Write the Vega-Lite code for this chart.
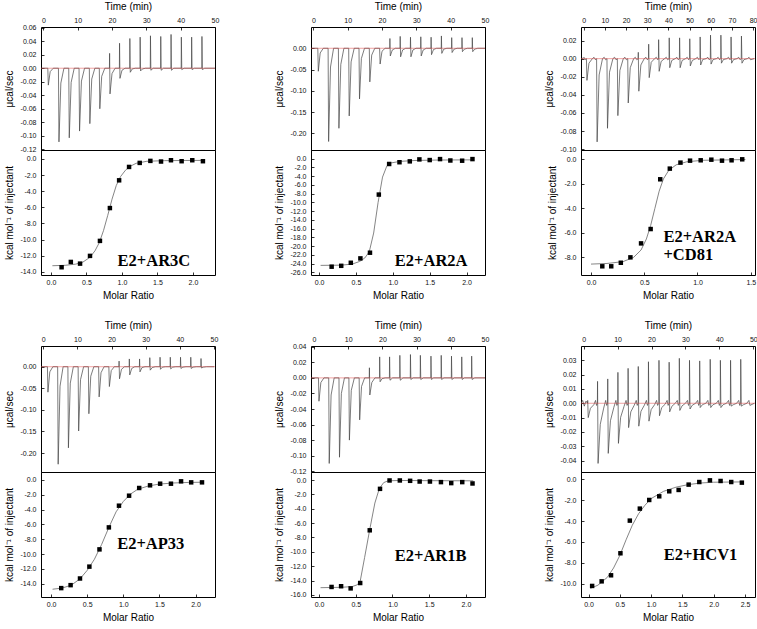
{
"$schema": "https://vega.github.io/schema/vega-lite/v6.json",
"background": "white",
"padding": {"left": 3, "top": 0, "right": 0, "bottom": 0},
"columns": 3,
"bounds": "flush",
"align": "each",
"spacing": {"row": 0, "column": 96},
"datasets": {
"raw1": [{"t":-0.5,"v":0},{"t":1.3,"v":0},{"t":1.45,"v":-0.025},{"t":2.0,"v":-0.005},{"t":2.9,"v":0},
{"t":4.4,"v":0},{"t":4.55,"v":-0.109},{"t":5.1,"v":-0.022},{"t":6.0,"v":0},
{"t":7.4,"v":0},{"t":7.55,"v":-0.103},{"t":8.1,"v":-0.021},{"t":9.0,"v":0},
{"t":10.4,"v":0},{"t":10.55,"v":-0.093},{"t":11.1,"v":-0.019},{"t":12.0,"v":0},
{"t":13.4,"v":0},{"t":13.55,"v":-0.082},{"t":14.1,"v":-0.016},{"t":15.0,"v":0},
{"t":16.3,"v":0},{"t":16.45,"v":-0.060},{"t":17.0,"v":-0.012},{"t":17.9,"v":0},
{"t":19.25,"v":0},{"t":19.3,"v":0.022},{"t":19.42,"v":-0.038},{"t":20.0,"v":-0.008},{"t":20.9,"v":0},
{"t":22.15,"v":0},{"t":22.2,"v":0.037},{"t":22.32,"v":-0.015},{"t":22.9,"v":-0.003},{"t":23.8,"v":0},
{"t":25.15,"v":0},{"t":25.2,"v":0.044},{"t":25.32,"v":-0.006},{"t":25.9,"v":-0.001},{"t":26.8,"v":0},
{"t":28.15,"v":0},{"t":28.2,"v":0.046},{"t":28.32,"v":-0.004},{"t":28.9,"v":-0.001},{"t":29.8,"v":0},
{"t":31.15,"v":0},{"t":31.2,"v":0.048},{"t":31.32,"v":-0.003},{"t":32.0,"v":0},
{"t":34.15,"v":0},{"t":34.2,"v":0.047},{"t":34.32,"v":-0.003},{"t":35.0,"v":0},
{"t":37.15,"v":0},{"t":37.2,"v":0.050},{"t":37.32,"v":-0.003},{"t":38.0,"v":0},
{"t":40.15,"v":0},{"t":40.2,"v":0.046},{"t":40.32,"v":-0.002},{"t":41.0,"v":0},
{"t":43.15,"v":0},{"t":43.2,"v":0.046},{"t":43.32,"v":-0.002},{"t":44.0,"v":0},
{"t":46.15,"v":0},{"t":46.2,"v":0.047},{"t":46.32,"v":-0.002},{"t":47.0,"v":0},{"t":50,"v":0}],
"raw2": [{"t":-0.5,"v":0},{"t":1.3,"v":0},{"t":1.45,"v":-0.054},{"t":2.0,"v":-0.011},{"t":2.9,"v":0},
{"t":4.3,"v":0},{"t":4.45,"v":-0.219},{"t":5.0,"v":-0.044},{"t":5.9,"v":0},
{"t":7.3,"v":0},{"t":7.45,"v":-0.188},{"t":8.0,"v":-0.038},{"t":8.9,"v":0},
{"t":10.3,"v":0},{"t":10.45,"v":-0.159},{"t":11.0,"v":-0.032},{"t":11.9,"v":0},
{"t":13.3,"v":0},{"t":13.45,"v":-0.119},{"t":14.0,"v":-0.024},{"t":14.9,"v":0},
{"t":16.3,"v":0},{"t":16.45,"v":-0.079},{"t":17.0,"v":-0.016},{"t":17.9,"v":0},
{"t":19.3,"v":0},{"t":19.45,"v":-0.037},{"t":20.0,"v":-0.007},{"t":20.9,"v":0},
{"t":22.25,"v":0},{"t":22.3,"v":0.023},{"t":22.42,"v":-0.018},{"t":23.0,"v":-0.004},{"t":23.9,"v":0},
{"t":25.25,"v":0},{"t":25.3,"v":0.028},{"t":25.42,"v":-0.020},{"t":26.0,"v":-0.004},{"t":26.9,"v":0},
{"t":28.25,"v":0},{"t":28.3,"v":0.026},{"t":28.42,"v":-0.020},{"t":29.0,"v":-0.004},{"t":29.9,"v":0},
{"t":31.25,"v":0},{"t":31.3,"v":0.027},{"t":31.42,"v":-0.018},{"t":32.0,"v":-0.004},{"t":32.9,"v":0},
{"t":34.25,"v":0},{"t":34.3,"v":0.026},{"t":34.42,"v":-0.015},{"t":35.0,"v":-0.003},{"t":35.9,"v":0},
{"t":37.25,"v":0},{"t":37.3,"v":0.029},{"t":37.42,"v":-0.012},{"t":38.0,"v":-0.002},{"t":38.9,"v":0},
{"t":40.25,"v":0},{"t":40.3,"v":0.025},{"t":40.42,"v":-0.010},{"t":41.0,"v":-0.002},{"t":41.9,"v":0},
{"t":43.25,"v":0},{"t":43.3,"v":0.025},{"t":43.42,"v":-0.008},{"t":44.0,"v":-0.002},{"t":44.9,"v":0},
{"t":46.25,"v":0},{"t":46.3,"v":0.025},{"t":46.42,"v":-0.008},{"t":47.0,"v":-0.002},{"t":47.9,"v":0},{"t":50,"v":0}],
"raw3": [{"t":-1,"v":0},{"t":0.3,"v":0.0012},{"t":0.8,"v":-0.001},
{"t":1.3,"v":0},{"t":1.55,"v":-0.024},{"t":2.5,"v":-0.005},{"t":4.1,"v":0},{"t":4.9,"v":0.0015},{"t":5.6,"v":-0.0012},
{"t":6.1,"v":0},{"t":6.35,"v":-0.092},{"t":7.3,"v":-0.018},{"t":8.9,"v":0},{"t":9.7,"v":0.0015},{"t":10.4,"v":-0.0012},
{"t":11.0,"v":0},{"t":11.25,"v":-0.077},{"t":12.2,"v":-0.015},{"t":13.8,"v":0},{"t":14.6,"v":0.0015},{"t":15.3,"v":-0.0012},
{"t":15.9,"v":0},{"t":16.15,"v":-0.063},{"t":17.1,"v":-0.013},{"t":18.7,"v":0},{"t":19.5,"v":0.0015},{"t":20.2,"v":-0.0012},
{"t":20.8,"v":0},{"t":21.05,"v":-0.049},{"t":22.0,"v":-0.010},{"t":23.6,"v":0},{"t":24.4,"v":0.0015},{"t":25.1,"v":-0.0012},
{"t":25.7,"v":0},{"t":25.8,"v":0.007},{"t":26.05,"v":-0.036},{"t":27.0,"v":-0.007},{"t":28.6,"v":0},{"t":29.4,"v":0.0015},{"t":30.1,"v":-0.0012},
{"t":30.6,"v":0},{"t":30.7,"v":0.016},{"t":30.95,"v":-0.021},{"t":31.9,"v":-0.004},{"t":33.5,"v":0},{"t":34.3,"v":0.0015},{"t":35.0,"v":-0.0012},
{"t":35.3,"v":0},{"t":35.4,"v":0.021},{"t":35.65,"v":-0.014},{"t":36.6,"v":-0.003},{"t":38.2,"v":0},{"t":39.0,"v":0.0015},{"t":39.7,"v":-0.0012},
{"t":40.3,"v":0},{"t":40.4,"v":0.023},{"t":40.65,"v":-0.010},{"t":41.6,"v":-0.002},{"t":43.2,"v":0},{"t":44.0,"v":0.0015},{"t":44.7,"v":-0.0012},
{"t":45.2,"v":0},{"t":45.3,"v":0.023},{"t":45.55,"v":-0.010},{"t":46.5,"v":-0.002},{"t":48.1,"v":0},{"t":48.9,"v":0.0015},{"t":49.6,"v":-0.0012},
{"t":50.0,"v":0},{"t":50.1,"v":0.022},{"t":50.35,"v":-0.008},{"t":51.3,"v":-0.002},{"t":52.9,"v":0},{"t":53.7,"v":0.0015},{"t":54.4,"v":-0.0012},
{"t":54.9,"v":0},{"t":55.0,"v":0.024},{"t":55.25,"v":-0.007},{"t":56.2,"v":-0.001},{"t":57.8,"v":0},{"t":58.6,"v":0.0015},{"t":59.3,"v":-0.0012},
{"t":59.8,"v":0},{"t":59.9,"v":0.026},{"t":60.15,"v":-0.006},{"t":61.1,"v":-0.001},{"t":62.7,"v":0},{"t":63.5,"v":0.0015},{"t":64.2,"v":-0.0012},
{"t":64.7,"v":0},{"t":64.8,"v":0.026},{"t":65.05,"v":-0.005},{"t":66.0,"v":-0.001},{"t":67.6,"v":0},{"t":68.4,"v":0.0015},{"t":69.1,"v":-0.0012},
{"t":69.5,"v":0},{"t":69.6,"v":0.024},{"t":69.85,"v":-0.005},{"t":70.8,"v":-0.001},{"t":72.4,"v":0},{"t":73.2,"v":0.0015},{"t":73.9,"v":-0.0012},
{"t":74.4,"v":0},{"t":74.5,"v":0.025},{"t":74.75,"v":-0.005},{"t":75.7,"v":-0.001},{"t":77.3,"v":0},{"t":78.1,"v":0.0015},{"t":78.8,"v":-0.0012},{"t":80.5,"v":0}],
"raw4": [{"t":-0.5,"v":0},{"t":1.2,"v":0},{"t":1.35,"v":-0.059},{"t":1.9,"v":-0.012},{"t":2.8,"v":0},
{"t":4.2,"v":0},{"t":4.35,"v":-0.226},{"t":4.9,"v":-0.045},{"t":5.8,"v":0},
{"t":7.2,"v":0},{"t":7.35,"v":-0.188},{"t":7.9,"v":-0.038},{"t":8.8,"v":0},
{"t":10.2,"v":0},{"t":10.35,"v":-0.149},{"t":10.9,"v":-0.030},{"t":11.8,"v":0},
{"t":13.2,"v":0},{"t":13.35,"v":-0.109},{"t":13.9,"v":-0.022},{"t":14.8,"v":0},
{"t":16.2,"v":0},{"t":16.35,"v":-0.070},{"t":16.9,"v":-0.014},{"t":17.8,"v":0},
{"t":19.2,"v":0},{"t":19.35,"v":-0.046},{"t":19.9,"v":-0.009},{"t":20.8,"v":0},
{"t":22.15,"v":0},{"t":22.2,"v":0.013},{"t":22.32,"v":-0.028},{"t":22.9,"v":-0.006},{"t":23.8,"v":0},
{"t":25.15,"v":0},{"t":25.2,"v":0.018},{"t":25.32,"v":-0.019},{"t":25.9,"v":-0.004},{"t":26.8,"v":0},
{"t":28.15,"v":0},{"t":28.2,"v":0.018},{"t":28.32,"v":-0.012},{"t":28.9,"v":-0.002},{"t":29.8,"v":0},
{"t":31.15,"v":0},{"t":31.2,"v":0.021},{"t":31.32,"v":-0.008},{"t":31.9,"v":-0.002},{"t":32.8,"v":0},
{"t":34.15,"v":0},{"t":34.2,"v":0.022},{"t":34.32,"v":-0.006},{"t":34.9,"v":-0.001},{"t":35.8,"v":0},
{"t":37.15,"v":0},{"t":37.2,"v":0.022},{"t":37.32,"v":-0.005},{"t":37.9,"v":-0.001},{"t":38.8,"v":0},
{"t":40.15,"v":0},{"t":40.2,"v":0.022},{"t":40.32,"v":-0.004},{"t":40.9,"v":-0.001},{"t":41.8,"v":0},
{"t":43.15,"v":0},{"t":43.2,"v":0.022},{"t":43.32,"v":-0.004},{"t":43.9,"v":-0.001},{"t":44.8,"v":0},
{"t":46.15,"v":0},{"t":46.2,"v":0.019},{"t":46.32,"v":-0.003},{"t":46.9,"v":-0.001},{"t":47.8,"v":0},{"t":50,"v":0}],
"raw5": [{"t":-0.7,"v":0},{"t":1.3,"v":0},{"t":1.45,"v":-0.030},{"t":2.0,"v":-0.006},{"t":2.9,"v":0},
{"t":4.3,"v":0},{"t":4.45,"v":-0.110},{"t":5.0,"v":-0.022},{"t":5.9,"v":0},
{"t":7.3,"v":0},{"t":7.45,"v":-0.102},{"t":8.0,"v":-0.020},{"t":8.9,"v":0},
{"t":10.2,"v":0},{"t":10.35,"v":-0.080},{"t":10.9,"v":-0.016},{"t":11.8,"v":0},
{"t":13.2,"v":0},{"t":13.35,"v":-0.054},{"t":13.9,"v":-0.011},{"t":14.8,"v":0},
{"t":16.15,"v":0},{"t":16.2,"v":0.013},{"t":16.32,"v":-0.022},{"t":16.9,"v":-0.006},{"t":17.8,"v":0},
{"t":19.15,"v":0},{"t":19.2,"v":0.027},{"t":19.32,"v":-0.005},{"t":19.9,"v":-0.001},{"t":20.8,"v":0},
{"t":22.05,"v":0},{"t":22.1,"v":0.027},{"t":22.22,"v":-0.003},{"t":23.0,"v":0},
{"t":25.05,"v":0},{"t":25.1,"v":0.029},{"t":25.22,"v":-0.003},{"t":26.0,"v":0},
{"t":28.15,"v":0},{"t":28.2,"v":0.030},{"t":28.32,"v":-0.002},{"t":29.0,"v":0},
{"t":31.05,"v":0},{"t":31.1,"v":0.029},{"t":31.22,"v":-0.002},{"t":32.0,"v":0},
{"t":34.15,"v":0},{"t":34.2,"v":0.028},{"t":34.32,"v":-0.002},{"t":35.0,"v":0},
{"t":37.15,"v":0},{"t":37.2,"v":0.029},{"t":37.32,"v":-0.002},{"t":38.0,"v":0},
{"t":40.15,"v":0},{"t":40.2,"v":0.028},{"t":40.32,"v":-0.002},{"t":41.0,"v":0},
{"t":43.15,"v":0},{"t":43.2,"v":0.027},{"t":43.32,"v":-0.002},{"t":44.0,"v":0},
{"t":46.05,"v":0},{"t":46.1,"v":0.028},{"t":46.22,"v":-0.002},{"t":47.0,"v":0},{"t":50,"v":0}],
"raw6": [{"t":-0.8,"v":0},{"t":-0.3,"v":0.002},{"t":0.2,"v":-0.002},{"t":0.7,"v":0.0015},
{"t":1.15,"v":0},{"t":1.2,"v":0.002},{"t":1.35,"v":-0.010},{"t":2.0,"v":-0.0035},{"t":3.0,"v":-0.001},{"t":3.5,"v":0.002},{"t":3.8,"v":-0.0015},
{"t":4.05,"v":0},{"t":4.1,"v":0.0153},{"t":4.25,"v":-0.042},{"t":4.9,"v":-0.0147},{"t":5.9,"v":-0.0034},{"t":6.5,"v":0.002},{"t":6.8,"v":-0.0015},
{"t":7.05,"v":0},{"t":7.1,"v":0.017},{"t":7.25,"v":-0.035},{"t":7.9,"v":-0.0122},{"t":8.9,"v":-0.0028},{"t":9.5,"v":0.002},{"t":9.8,"v":-0.0015},
{"t":10.05,"v":0},{"t":10.1,"v":0.0216},{"t":10.25,"v":-0.028},{"t":10.9,"v":-0.0098},{"t":11.9,"v":-0.0022},{"t":12.5,"v":0.002},{"t":12.8,"v":-0.0015},
{"t":13.05,"v":0},{"t":13.1,"v":0.0244},{"t":13.25,"v":-0.017},{"t":13.9,"v":-0.006},{"t":14.9,"v":-0.0014},{"t":15.5,"v":0.002},{"t":15.8,"v":-0.0015},
{"t":16.05,"v":0},{"t":16.1,"v":0.0257},{"t":16.25,"v":-0.016},{"t":16.9,"v":-0.0056},{"t":17.9,"v":-0.0013},{"t":18.5,"v":0.002},{"t":18.8,"v":-0.0015},
{"t":19.05,"v":0},{"t":19.1,"v":0.029},{"t":19.25,"v":-0.0125},{"t":19.9,"v":-0.0044},{"t":20.9,"v":-0.001},{"t":21.5,"v":0.002},{"t":21.8,"v":-0.0015},
{"t":22.15,"v":0},{"t":22.2,"v":0.030},{"t":22.35,"v":-0.0087},{"t":23.0,"v":-0.003},{"t":24.0,"v":-0.0007},{"t":24.6,"v":0.002},{"t":24.9,"v":-0.0015},
{"t":25.15,"v":0},{"t":25.2,"v":0.0287},{"t":25.35,"v":-0.006},{"t":26.0,"v":-0.0021},{"t":27.0,"v":0},{"t":27.6,"v":0.002},{"t":27.9,"v":-0.0015},
{"t":28.15,"v":0},{"t":28.2,"v":0.0314},{"t":28.35,"v":-0.005},{"t":29.0,"v":-0.0018},{"t":30.0,"v":0},{"t":30.6,"v":0.002},{"t":30.9,"v":-0.0015},
{"t":31.15,"v":0},{"t":31.2,"v":0.030},{"t":31.35,"v":-0.004},{"t":32.0,"v":-0.0014},{"t":33.0,"v":0},{"t":33.6,"v":0.002},{"t":33.9,"v":-0.0015},
{"t":34.15,"v":0},{"t":34.2,"v":0.0296},{"t":34.35,"v":-0.003},{"t":35.0,"v":-0.001},{"t":36.0,"v":0},{"t":36.6,"v":0.002},{"t":36.9,"v":-0.0015},
{"t":37.25,"v":0},{"t":37.3,"v":0.0307},{"t":37.45,"v":-0.003},{"t":38.1,"v":-0.001},{"t":39.1,"v":0},{"t":39.7,"v":0.002},{"t":40.0,"v":-0.0015},
{"t":40.25,"v":0},{"t":40.3,"v":0.030},{"t":40.45,"v":-0.003},{"t":41.1,"v":-0.001},{"t":42.1,"v":0},{"t":42.7,"v":0.002},{"t":43.0,"v":-0.0015},
{"t":43.25,"v":0},{"t":43.3,"v":0.030},{"t":43.45,"v":-0.002},{"t":44.1,"v":-0.001},{"t":45.1,"v":0},{"t":45.7,"v":0.002},{"t":46.0,"v":-0.0015},
{"t":46.25,"v":0},{"t":46.3,"v":0.0307},{"t":46.45,"v":-0.002},{"t":47.1,"v":-0.001},{"t":48.1,"v":0},{"t":48.7,"v":0.002},{"t":49.0,"v":-0.0015},{"t":50.3,"v":0}],
"pts1": [{"r":0.15,"h":-13.44},{"r":0.28,"h":-12.78},{"r":0.41,"h":-12.99},{"r":0.55,"h":-12.03},{"r":0.69,"h":-10.17},{"r":0.83,"h":-6.1},{"r":0.96,"h":-2.66},{"r":1.10,"h":-1.0},{"r":1.25,"h":-0.5},{"r":1.40,"h":-0.25},{"r":1.55,"h":-0.33},{"r":1.69,"h":-0.17},{"r":1.84,"h":-0.29},{"r":1.99,"h":-0.17},{"r":2.14,"h":-0.29}],
"fit1": [{"r":0.02,"h":-13.25},{"r":0.2,"h":-13.2},{"r":0.35,"h":-13.05},{"r":0.45,"h":-12.8},{"r":0.55,"h":-12.2},{"r":0.62,"h":-11.4},{"r":0.68,"h":-10.4},{"r":0.74,"h":-8.9},{"r":0.80,"h":-7.0},{"r":0.86,"h":-5.0},{"r":0.92,"h":-3.3},{"r":0.98,"h":-2.2},{"r":1.05,"h":-1.4},{"r":1.12,"h":-0.9},{"r":1.2,"h":-0.55},{"r":1.35,"h":-0.3},{"r":1.6,"h":-0.22},{"r":1.9,"h":-0.2},{"r":2.14,"h":-0.19}],
"pts2": [{"r":0.17,"h":-24.7},{"r":0.30,"h":-24.5},{"r":0.43,"h":-23.8},{"r":0.56,"h":-22.8},{"r":0.69,"h":-21.5},{"r":0.81,"h":-8.2},{"r":0.95,"h":-1.2},{"r":1.09,"h":-0.8},{"r":1.23,"h":-0.6},{"r":1.36,"h":-0.15},{"r":1.50,"h":-0.3},{"r":1.64,"h":-0.08},{"r":1.78,"h":-0.4},{"r":1.94,"h":-0.45},{"r":2.08,"h":-0.08}],
"fit2": [{"r":0.02,"h":-24.4},{"r":0.3,"h":-24.35},{"r":0.45,"h":-24.1},{"r":0.55,"h":-23.5},{"r":0.62,"h":-22.7},{"r":0.68,"h":-21.3},{"r":0.74,"h":-17.0},{"r":0.80,"h":-10.0},{"r":0.86,"h":-4.2},{"r":0.92,"h":-1.6},{"r":0.98,"h":-0.95},{"r":1.1,"h":-0.6},{"r":1.3,"h":-0.4},{"r":1.6,"h":-0.3},{"r":2.1,"h":-0.25}],
"pts3": [{"r":0.106,"h":-8.73},{"r":0.19,"h":-8.73},{"r":0.28,"h":-8.44},{"r":0.37,"h":-8.0},{"r":0.47,"h":-6.86},{"r":0.56,"h":-5.69},{"r":0.65,"h":-1.63},{"r":0.74,"h":-0.76},{"r":0.84,"h":-0.27},{"r":0.93,"h":-0.11},{"r":1.03,"h":-0.08},{"r":1.13,"h":-0.03},{"r":1.23,"h":-0.11},{"r":1.32,"h":-0.08},{"r":1.42,"h":0}],
"fit3": [{"r":0.0,"h":-8.55},{"r":0.15,"h":-8.5},{"r":0.3,"h":-8.35},{"r":0.4,"h":-8.0},{"r":0.47,"h":-7.4},{"r":0.52,"h":-6.5},{"r":0.56,"h":-5.4},{"r":0.6,"h":-4.0},{"r":0.64,"h":-2.6},{"r":0.68,"h":-1.6},{"r":0.73,"h":-0.9},{"r":0.8,"h":-0.45},{"r":0.9,"h":-0.2},{"r":1.05,"h":-0.08},{"r":1.45,"h":-0.02}],
"pts4": [{"r":0.14,"h":-14.6},{"r":0.27,"h":-14.2},{"r":0.40,"h":-13.3},{"r":0.53,"h":-11.7},{"r":0.67,"h":-9.37},{"r":0.80,"h":-6.4},{"r":0.94,"h":-3.47},{"r":1.08,"h":-2.12},{"r":1.22,"h":-1.08},{"r":1.37,"h":-0.72},{"r":1.51,"h":-0.5},{"r":1.66,"h":-0.5},{"r":1.80,"h":-0.18},{"r":1.94,"h":-0.32},{"r":2.09,"h":-0.32}],
"fit4": [{"r":0.02,"h":-14.75},{"r":0.15,"h":-14.6},{"r":0.28,"h":-14.2},{"r":0.4,"h":-13.35},{"r":0.5,"h":-12.2},{"r":0.6,"h":-10.7},{"r":0.7,"h":-8.7},{"r":0.8,"h":-6.4},{"r":0.9,"h":-4.3},{"r":1.0,"h":-2.9},{"r":1.1,"h":-1.9},{"r":1.2,"h":-1.25},{"r":1.35,"h":-0.8},{"r":1.5,"h":-0.55},{"r":1.7,"h":-0.4},{"r":1.9,"h":-0.33},{"r":2.09,"h":-0.3}],
"pts5": [{"r":0.17,"h":-14.9},{"r":0.30,"h":-14.8},{"r":0.43,"h":-15.1},{"r":0.56,"h":-14.35},{"r":0.69,"h":-7.0},{"r":0.83,"h":-1.22},{"r":0.96,"h":-0.05},{"r":1.10,"h":-0.05},{"r":1.24,"h":-0.1},{"r":1.37,"h":-0.2},{"r":1.51,"h":-0.2},{"r":1.66,"h":-0.28},{"r":1.80,"h":-0.42},{"r":1.95,"h":-0.28},{"r":2.09,"h":-0.47}],
"fit5": [{"r":0.02,"h":-15.0},{"r":0.3,"h":-14.95},{"r":0.45,"h":-14.85},{"r":0.52,"h":-14.6},{"r":0.56,"h":-14.1},{"r":0.62,"h":-10.8},{"r":0.69,"h":-6.9},{"r":0.76,"h":-3.2},{"r":0.82,"h":-1.2},{"r":0.88,"h":-0.35},{"r":0.94,"h":-0.1},{"r":1.1,"h":-0.05},{"r":1.5,"h":-0.08},{"r":2.1,"h":-0.1}],
"pts6": [{"r":0.058,"h":-10.22},{"r":0.21,"h":-9.78},{"r":0.36,"h":-9.2},{"r":0.51,"h":-7.09},{"r":0.66,"h":-3.96},{"r":0.82,"h":-2.81},{"r":0.97,"h":-1.98},{"r":1.13,"h":-1.63},{"r":1.29,"h":-1.15},{"r":1.44,"h":-1.02},{"r":1.60,"h":-0.51},{"r":1.77,"h":-0.26},{"r":1.94,"h":-0.1},{"r":2.11,"h":-0.16},{"r":2.28,"h":-0.26},{"r":2.45,"h":-0.32}],
"fit6": [{"r":0.03,"h":-10.45},{"r":0.15,"h":-10.15},{"r":0.3,"h":-9.4},{"r":0.4,"h":-8.5},{"r":0.5,"h":-7.3},{"r":0.6,"h":-5.8},{"r":0.7,"h":-4.4},{"r":0.8,"h":-3.3},{"r":0.9,"h":-2.5},{"r":1.0,"h":-1.85},{"r":1.2,"h":-1.15},{"r":1.4,"h":-0.75},{"r":1.6,"h":-0.5},{"r":1.8,"h":-0.35},{"r":2.0,"h":-0.28},{"r":2.45,"h":-0.25}]
},
"concat": [
{"width":174,"height":123,"layer":[
 {"data":{"name":"raw1"},"mark":{"type":"line","color":"#444","strokeWidth":0.7,"clip":true},
  "encoding":{"x":{"field":"t","type":"quantitative","scale":{"domain":[-0.68,50],"nice":false,"zero":false},"axis":{"orient":"top","title":"Time (min)","values":[0,10,20,30,40,50],"tickCount":50,"labelOverlap":false}},
   "y":{"field":"v","type":"quantitative","scale":{"domain":[-0.121,0.061],"nice":false,"zero":false},"axis":{"title":"μcal/sec","values":[0.06,0.04,0.02,0,-0.02,-0.04,-0.06,-0.08,-0.1,-0.12],"tickCount":50,"format":".2f","labelOverlap":false}}}},
 {"data":{"values":[{}]},"mark":{"type":"rule","color":"#e04848","strokeWidth":0.6,"opacity":0.85},"encoding":{"y":{"datum":0}}}]},
{"width":174,"height":123,"layer":[
 {"data":{"name":"raw2"},"mark":{"type":"line","color":"#444","strokeWidth":0.7,"clip":true},
  "encoding":{"x":{"field":"t","type":"quantitative","scale":{"domain":[-0.68,50],"nice":false,"zero":false},"axis":{"orient":"top","title":"Time (min)","values":[0,10,20,30,40,50],"tickCount":50,"labelOverlap":false}},
   "y":{"field":"v","type":"quantitative","scale":{"domain":[-0.239,0.05],"nice":false,"zero":false},"axis":{"title":"μcal/sec","values":[0,-0.05,-0.1,-0.15,-0.2],"tickCount":50,"format":".2f","labelOverlap":false}}}},
 {"data":{"values":[{}]},"mark":{"type":"rule","color":"#e04848","strokeWidth":0.6,"opacity":0.85},"encoding":{"y":{"datum":0}}}]},
{"width":174,"height":123,"layer":[
 {"data":{"name":"raw3"},"mark":{"type":"line","color":"#444","strokeWidth":0.7,"clip":true},
  "encoding":{"x":{"field":"t","type":"quantitative","scale":{"domain":[-1.26,80.9],"nice":false,"zero":false},"axis":{"orient":"top","title":"Time (min)","values":[0,10,20,30,40,50,60,70,80],"tickCount":50,"labelOverlap":false}},
   "y":{"field":"v","type":"quantitative","scale":{"domain":[-0.101,0.035],"nice":false,"zero":false},"axis":{"title":"μcal/sec","values":[0.02,0,-0.02,-0.04,-0.06,-0.08,-0.1],"tickCount":50,"format":".2f","labelOverlap":false}}}},
 {"data":{"values":[{}]},"mark":{"type":"rule","color":"#e04848","strokeWidth":0.6,"opacity":0.85},"encoding":{"y":{"datum":0}}}]},
{"width":174,"height":125,"layer":[
 {"data":{"name":"fit1"},"mark":{"type":"line","color":"#666","strokeWidth":0.8},
  "encoding":{"x":{"field":"r","type":"quantitative","scale":{"domain":[-0.14,2.31],"nice":false,"zero":false},"axis":{"title":"Molar Ratio","values":[0,0.5,1,1.5,2],"tickCount":50,"format":".1f","labelOverlap":false,"labelPadding":6}},
   "y":{"field":"h","type":"quantitative","scale":{"domain":[-14.4,1.1],"nice":false,"zero":false},"axis":{"title":"kcal mol⁻¹ of injectant","values":[0,-2,-4,-6,-8,-10,-12,-14],"tickCount":50,"format":".1f","labelOverlap":false}}}},
 {"data":{"name":"pts1"},"mark":{"type":"square","color":"#000","size":20,"opacity":1},"encoding":{"x":{"field":"r","type":"quantitative"},"y":{"field":"h","type":"quantitative"}}},
 {"data":{"values":[{}]},"mark":{"type":"text","text":"E2+AR3C","font":"Liberation Serif","fontWeight":"bold","fontSize":16.5,"color":"#000","baseline":"middle"},"encoding":{"x":{"datum":1.45},"y":{"datum":-12.7}}}]},
{"width":174,"height":125,"layer":[
 {"data":{"name":"fit2"},"mark":{"type":"line","color":"#666","strokeWidth":0.8},
  "encoding":{"x":{"field":"r","type":"quantitative","scale":{"domain":[-0.11,2.25],"nice":false,"zero":false},"axis":{"title":"Molar Ratio","values":[0,0.5,1,1.5,2],"tickCount":50,"format":".1f","labelOverlap":false,"labelPadding":6}},
   "y":{"field":"h","type":"quantitative","scale":{"domain":[-26.6,2.0],"nice":false,"zero":false},"axis":{"title":"kcal mol⁻¹ of injectant","values":[0,-2,-4,-6,-8,-10,-12,-14,-16,-18,-20,-22,-24,-26],"tickCount":50,"format":".1f","labelOverlap":false}}}},
 {"data":{"name":"pts2"},"mark":{"type":"square","color":"#000","size":20,"opacity":1},"encoding":{"x":{"field":"r","type":"quantitative"},"y":{"field":"h","type":"quantitative"}}},
 {"data":{"values":[{}]},"mark":{"type":"text","text":"E2+AR2A","font":"Liberation Serif","fontWeight":"bold","fontSize":16.5,"color":"#000","baseline":"middle"},"encoding":{"x":{"datum":1.52},"y":{"datum":-23.4}}}]},
{"width":174,"height":125,"layer":[
 {"data":{"name":"fit3"},"mark":{"type":"line","color":"#666","strokeWidth":0.8},
  "encoding":{"x":{"field":"r","type":"quantitative","scale":{"domain":[-0.094,1.54],"nice":false,"zero":false},"axis":{"title":"Molar Ratio","values":[0,0.5,1,1.5],"tickCount":50,"format":".1f","labelOverlap":false,"labelPadding":6}},
   "y":{"field":"h","type":"quantitative","scale":{"domain":[-9.44,0.76],"nice":false,"zero":false},"axis":{"title":"kcal mol⁻¹ of injectant","values":[0,-2,-4,-6,-8],"tickCount":50,"format":".1f","labelOverlap":false}}}},
 {"data":{"name":"pts3"},"mark":{"type":"square","color":"#000","size":20,"opacity":1},"encoding":{"x":{"field":"r","type":"quantitative"},"y":{"field":"h","type":"quantitative"}}},
 {"data":{"values":[{}]},"mark":{"type":"text","text":"E2+AR2A","font":"Liberation Serif","fontWeight":"bold","fontSize":16.5,"color":"#000","align":"left","baseline":"middle"},"encoding":{"x":{"datum":0.68},"y":{"datum":-6.31}}},
 {"data":{"values":[{}]},"mark":{"type":"text","text":"+CD81","font":"Liberation Serif","fontWeight":"bold","fontSize":16.5,"color":"#000","align":"left","baseline":"middle"},"encoding":{"x":{"datum":0.68},"y":{"datum":-7.78}}}]},
{"width":174,"height":71,"data":{"values":[]},"mark":"point","view":{"stroke":null}},
{"width":174,"height":71,"data":{"values":[]},"mark":"point","view":{"stroke":null}},
{"width":174,"height":71,"data":{"values":[]},"mark":"point","view":{"stroke":null}},
{"width":174,"height":126,"layer":[
 {"data":{"name":"raw4"},"mark":{"type":"line","color":"#444","strokeWidth":0.7,"clip":true},
  "encoding":{"x":{"field":"t","type":"quantitative","scale":{"domain":[-0.68,50.3],"nice":false,"zero":false},"axis":{"orient":"top","title":"Time (min)","values":[0,10,20,30,40,50],"tickCount":50,"labelOverlap":false}},
   "y":{"field":"v","type":"quantitative","scale":{"domain":[-0.244,0.048],"nice":false,"zero":false},"axis":{"title":"μcal/sec","values":[0,-0.05,-0.1,-0.15,-0.2],"tickCount":50,"format":".2f","labelOverlap":false}}}},
 {"data":{"values":[{}]},"mark":{"type":"rule","color":"#e04848","strokeWidth":0.6,"opacity":0.85},"encoding":{"y":{"datum":0}}}]},
{"width":174,"height":126,"layer":[
 {"data":{"name":"raw5"},"mark":{"type":"line","color":"#444","strokeWidth":0.7,"clip":true},
  "encoding":{"x":{"field":"t","type":"quantitative","scale":{"domain":[-0.88,50],"nice":false,"zero":false},"axis":{"orient":"top","title":"Time (min)","values":[0,10,20,30,40,50],"tickCount":50,"labelOverlap":false}},
   "y":{"field":"v","type":"quantitative","scale":{"domain":[-0.121,0.041],"nice":false,"zero":false},"axis":{"title":"μcal/sec","values":[0.04,0.02,0,-0.02,-0.04,-0.06,-0.08,-0.1,-0.12],"tickCount":50,"format":".2f","labelOverlap":false}}}},
 {"data":{"values":[{}]},"mark":{"type":"rule","color":"#e04848","strokeWidth":0.6,"opacity":0.85},"encoding":{"y":{"datum":0}}}]},
{"width":174,"height":126,"layer":[
 {"data":{"name":"raw6"},"mark":{"type":"line","color":"#444","strokeWidth":0.7,"clip":true},
  "encoding":{"x":{"field":"t","type":"quantitative","scale":{"domain":[-0.78,50.5],"nice":false,"zero":false},"axis":{"orient":"top","title":"Time (min)","values":[0,10,20,30,40,50],"tickCount":50,"labelOverlap":false}},
   "y":{"field":"v","type":"quantitative","scale":{"domain":[-0.048,0.04],"nice":false,"zero":false},"axis":{"title":"μcal/sec","values":[0.03,0.02,0.01,0,-0.01,-0.02,-0.03,-0.04],"tickCount":50,"format":".2f","labelOverlap":false}}}},
 {"data":{"values":[{}]},"mark":{"type":"rule","color":"#e04848","strokeWidth":0.6,"opacity":0.85},"encoding":{"y":{"datum":0}}}]},
{"width":174,"height":125,"layer":[
 {"data":{"name":"fit4"},"mark":{"type":"line","color":"#666","strokeWidth":0.8},
  "encoding":{"x":{"field":"r","type":"quantitative","scale":{"domain":[-0.14,2.27],"nice":false,"zero":false},"axis":{"title":"Molar Ratio","values":[0,0.5,1,1.5,2],"tickCount":50,"format":".1f","labelOverlap":false,"labelPadding":6}},
   "y":{"field":"h","type":"quantitative","scale":{"domain":[-15.8,1.08],"nice":false,"zero":false},"axis":{"title":"kcal mol⁻¹ of injectant","values":[0,-2,-4,-6,-8,-10,-12,-14],"tickCount":50,"format":".1f","labelOverlap":false}}}},
 {"data":{"name":"pts4"},"mark":{"type":"square","color":"#000","size":20,"opacity":1},"encoding":{"x":{"field":"r","type":"quantitative"},"y":{"field":"h","type":"quantitative"}}},
 {"data":{"values":[{}]},"mark":{"type":"text","text":"E2+AP33","font":"Liberation Serif","fontWeight":"bold","fontSize":16.5,"color":"#000","baseline":"middle"},"encoding":{"x":{"datum":1.38},"y":{"datum":-8.6}}}]},
{"width":174,"height":125,"layer":[
 {"data":{"name":"fit5"},"mark":{"type":"line","color":"#666","strokeWidth":0.8},
  "encoding":{"x":{"field":"r","type":"quantitative","scale":{"domain":[-0.11,2.26],"nice":false,"zero":false},"axis":{"title":"Molar Ratio","values":[0,0.5,1,1.5,2],"tickCount":50,"format":".1f","labelOverlap":false,"labelPadding":6}},
   "y":{"field":"h","type":"quantitative","scale":{"domain":[-16.3,1.13],"nice":false,"zero":false},"axis":{"title":"kcal mol⁻¹ of injectant","values":[0,-2,-4,-6,-8,-10,-12,-14,-16],"tickCount":50,"format":".1f","labelOverlap":false}}}},
 {"data":{"name":"pts5"},"mark":{"type":"square","color":"#000","size":20,"opacity":1},"encoding":{"x":{"field":"r","type":"quantitative"},"y":{"field":"h","type":"quantitative"}}},
 {"data":{"values":[{}]},"mark":{"type":"text","text":"E2+AR1B","font":"Liberation Serif","fontWeight":"bold","fontSize":16.5,"color":"#000","baseline":"middle"},"encoding":{"x":{"datum":1.52},"y":{"datum":-10.54}}}]},
{"width":174,"height":125,"layer":[
 {"data":{"name":"fit6"},"mark":{"type":"line","color":"#666","strokeWidth":0.8},
  "encoding":{"x":{"field":"r","type":"quantitative","scale":{"domain":[-0.12,2.66],"nice":false,"zero":false},"axis":{"title":"Molar Ratio","values":[0,0.5,1,1.5,2,2.5],"tickCount":50,"format":".1f","labelOverlap":false,"labelPadding":6}},
   "y":{"field":"h","type":"quantitative","scale":{"domain":[-11.28,0.7],"nice":false,"zero":false},"axis":{"title":"kcal mol⁻¹ of injectant","values":[0,-2,-4,-6,-8,-10],"tickCount":50,"format":".1f","labelOverlap":false}}}},
 {"data":{"name":"pts6"},"mark":{"type":"square","color":"#000","size":20,"opacity":1},"encoding":{"x":{"field":"r","type":"quantitative"},"y":{"field":"h","type":"quantitative"}}},
 {"data":{"values":[{}]},"mark":{"type":"text","text":"E2+HCV1","font":"Liberation Serif","fontWeight":"bold","fontSize":16.5,"color":"#000","baseline":"middle"},"encoding":{"x":{"datum":1.79},"y":{"datum":-7.28}}}]}
],
"config": {
 "view": {"stroke": "#000", "strokeWidth": 1},
 "axis": {"labelFont": "Liberation Sans", "titleFont": "Liberation Sans", "labelFontSize": 7, "titleFontSize": 10, "titleFontWeight": "normal", "labelColor": "#111", "titleColor": "#000", "domain": false, "grid": false, "ticks": true, "tickColor": "#000", "tickSize": -3, "tickWidth": 0.8, "labelFlush": false, "labelOverlap": false},
 "axisX": {"labelPadding": 7, "titlePadding": 5},
 "axisY": {"labelPadding": 8, "titlePadding": 6},
 "locale": {"number": {"decimal": ".", "thousands": ",", "grouping": [3], "currency": ["$", ""], "minus": "-"}}
}
}
